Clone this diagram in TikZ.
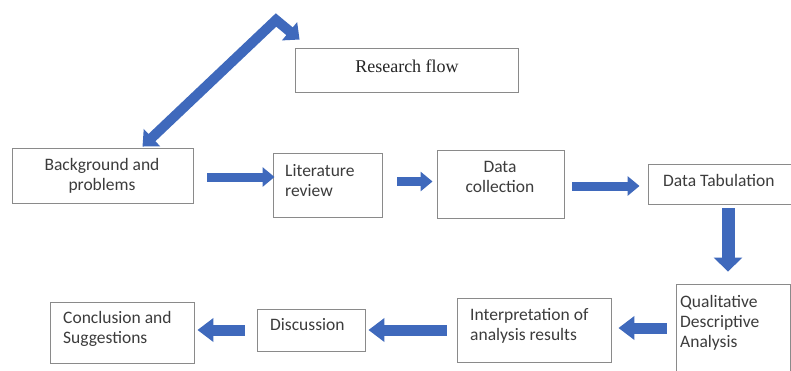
\documentclass[tikz,border=0pt]{standalone}
\usepackage{fontspec}
\setmainfont{Carlito}
\newfontfamily\serifrf{Liberation Serif}
\usetikzlibrary{arrows.meta,calc}
\definecolor{arrowblue}{HTML}{3F69BC}
\definecolor{boxgray}{HTML}{8A8A8A}
\definecolor{txtgray}{HTML}{3C3C3C}
\tikzset{
  box/.style={draw=boxgray, line width=0.9pt, inner sep=0pt, fill=white},
  txt/.style={inner sep=0pt, text=txtgray, font=\fontsize{17.5}{20}\selectfont, align=left},
  harrow/.style={draw=arrowblue, line width=9pt, -{Triangle[length=12pt,width=19pt]}},
  barrow/.style={draw=arrowblue, line width=11pt, -{Triangle[length=16pt,width=23pt]}},
  varrow/.style={draw=arrowblue, line width=13pt, -{Triangle[length=14pt,width=28pt]}},
  darrow/.style={draw=arrowblue, line width=10pt, line join=miter, {Triangle[length=13pt,width=23pt]}-{Triangle[length=13pt,width=23pt]}},
}
\begin{document}
\begin{tikzpicture}[x=1pt,y=-1pt]
\useasboundingbox (0,0) rectangle (791,370);
\clip (0,0) rectangle (791,370);
\fill[white] (0,0) rectangle (791,370);
% boxes
\node[box, minimum width=223pt, minimum height=44pt] (rf) at (406.5,70) {};
\node[box, minimum width=181pt, minimum height=55pt] (bg) at (102.5,175.5) {};
\node[box, minimum width=109pt, minimum height=64pt] (lit) at (327.5,185) {};
\node[box, minimum width=127pt, minimum height=68pt] (dc) at (500.5,184) {};
\node[box, minimum width=158pt, minimum height=40pt] (tab) at (727,184) {};
\node[box, minimum width=114pt, minimum height=106pt] (qa) at (733,337) {};
\node[box, minimum width=154pt, minimum height=64pt] (ip) at (534,330) {};
\node[box, minimum width=108pt, minimum height=42pt] (ds) at (311,330) {};
\node[box, minimum width=144pt, minimum height=61pt] (cs) at (122,332.5) {};
% texts
\node[inner sep=0pt, text=black!85, font=\serifrf\fontsize{18}{20}\selectfont] (rft) at (407,66) {Research flow};
\node[txt, anchor=north, align=center] (bgt) at (102,158) {Background and\\problems};
\node[txt, anchor=north west] (litt) at (285,164) {Literature\\review};
\node[txt, anchor=north, align=center] (dct) at (500,161) {Data\\collection};
\node[txt, anchor=north west] (tabt) at (663,174) {Data Tabulation};
\node[txt, anchor=north west] (qat) at (680,295) {Qualitative\\Descriptive\\Analysis};
\node[txt, anchor=north west] (ipt) at (470,308) {Interpretation of\\analysis results};
\node[txt, anchor=north west] (dst) at (270,318) {Discussion};
\node[txt, anchor=north west] (cst) at (63,311) {Conclusion and\\Suggestions};
% arrows
\coordinate (apex) at (276,20);
\draw[darrow] ($(bg.north)+(40,-1)$) -- (apex) -- ($(rf.north west)+(5,-8)$);
\draw[harrow] ($(bg.east)+(14,1.5)$) -- ($(bg.east -| lit.west)+(2,1.5)$);
\draw[harrow] ($(lit.east)+(15,-3.5)$) -- ($(lit.east -| dc.west)+(-4,-3.5)$);
\draw[harrow] ($(dc.east)+(8,2)$) -- ($(dc.east -| tab.west)+(-8,2)$);
\draw[varrow] ($(tab.south)+(1,4)$) -- ($(tab.south |- qa.north)+(1,-12)$);
\draw[barrow] ($(qa.west)+(-9,-9)$) -- ($(qa.west -| ip.east)+(7,-9)$);
\draw[barrow] ($(ip.west)+(-10,0)$) -- ($(ip.west -| ds.east)+(3,0)$);
\draw[barrow] ($(ds.west)+(-12,0)$) -- ($(ds.west -| cs.east)+(3,0)$);
\end{tikzpicture}
\end{document}
